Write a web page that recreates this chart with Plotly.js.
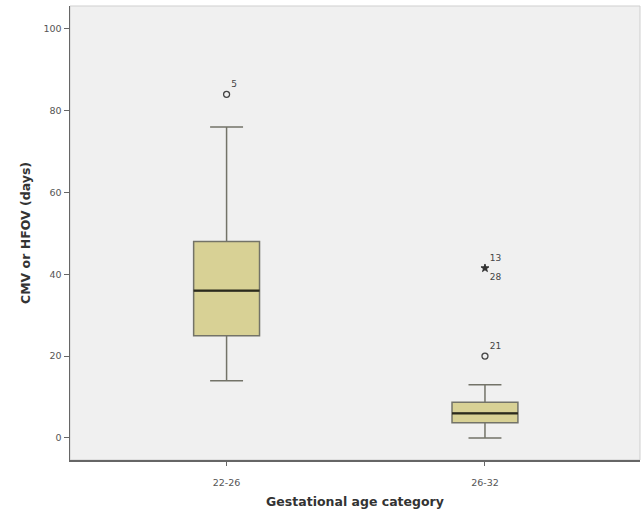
<!DOCTYPE html>
<html>
<head>
<meta charset="utf-8">
<script src="https://cdn.plot.ly/plotly-3.0.1.min.js"></script>
<style>html,body{margin:0;padding:0;background:#fff}#chart{width:644px;height:511px}</style>
</head>
<body>
<div id="chart"></div>
<script>
// Data
const categories = ["22-26", "26-32"];
const q1 = [25, 3.7];
const medians = [36, 6];
const q3 = [48, 8.7];
const lowerWhisker = [14, 0];
const upperWhisker = [76, 13];

// Outliers (mild = circles, extreme = stars)
const mildCat = ["22-26", "26-32"];
const mildVal = [84, 20];
const mildLabel = ["5", "21"];
const extremeCat = ["26-32", "26-32"];
const extremeVal = [41.5, 41.5];
const extremeLabel = ["13", "28"];

const boxTrace = {
  type: "box",
  x: categories,
  q1: q1,
  median: medians,
  q3: q3,
  lowerfence: lowerWhisker,
  upperfence: upperWhisker,
  boxpoints: false,
  width: 0.255,
  whiskerwidth: 0.5,
  fillcolor: "#d8d195",
  line: {color: "#737368", width: 1.5},
  hoverinfo: "skip",
  showlegend: false
};

// Dark, thicker median line drawn as a zero-height box at the median
const medianTrace = {
  type: "box",
  x: categories,
  q1: medians,
  median: medians,
  q3: medians,
  lowerfence: medians,
  upperfence: medians,
  boxpoints: false,
  width: 0.255,
  whiskerwidth: 0,
  fillcolor: "rgba(0,0,0,0)",
  line: {color: "#2b2a1c", width: 2.4},
  hoverinfo: "skip",
  showlegend: false
};

const mildTrace = {
  type: "scatter",
  mode: "markers+text",
  x: mildCat,
  y: mildVal,
  text: mildLabel,
  textposition: "top right",
  textfont: {family: "DejaVu Sans", size: 9, color: "#444"},
  marker: {symbol: "circle-open", size: 6, color: "#444", line: {width: 1.3, color: "#444"}},
  showlegend: false,
  cliponaxis: false
};

const extremeTrace = {
  type: "scatter",
  mode: "markers+text",
  x: extremeCat,
  y: extremeVal,
  text: extremeLabel,
  textposition: ["top right", "bottom right"],
  textfont: {family: "DejaVu Sans", size: 9, color: "#444"},
  marker: {symbol: "star", size: 6, color: "#333", line: {width: 0.5, color: "#333"}},
  showlegend: false,
  cliponaxis: false
};

const layout = {
  width: 644,
  height: 511,
  margin: {l: 70, r: 4, t: 6, b: 51},
  paper_bgcolor: "#ffffff",
  plot_bgcolor: "#f0f0f0",
  showlegend: false,
  boxmode: "overlay",
  font: {family: "DejaVu Sans", color: "#555"},
  xaxis: {
    type: "category",
    range: [-0.606, 1.6],
    showgrid: false,
    zeroline: false,
    showline: true,
    linecolor: "#666",
    linewidth: 1.5,
    ticks: "outside",
    ticklen: 4,
    tickcolor: "#666",
    ticklabelstandoff: 9,
    tickfont: {family: "DejaVu Sans", size: 9.5, color: "#555"},
    title: {text: "Gestational age category", font: {family: "DejaVu Sans", size: 12.5, color: "#333", weight: "bold"}, standoff: 10}
  },
  yaxis: {
    range: [-5.4, 105.6],
    tickvals: [0, 20, 40, 60, 80, 100],
    showgrid: false,
    zeroline: false,
    showline: true,
    linecolor: "#666",
    linewidth: 1.5,
    ticks: "outside",
    ticklen: 5,
    tickcolor: "#666",
    tickfont: {family: "DejaVu Sans", size: 9.5, color: "#555"},
    title: {text: "CMV or HFOV (days)", font: {family: "DejaVu Sans", size: 12.5, color: "#333", weight: "bold"}, standoff: 10}
  },
  shapes: [{
    type: "rect", xref: "paper", yref: "paper", x0: 0, x1: 1, y0: 0, y1: 1,
    line: {color: "#cfcfcf", width: 1}, layer: "below"
  }]
};

Plotly.newPlot("chart", [boxTrace, medianTrace, mildTrace, extremeTrace], layout, {displayModeBar: false, staticPlot: true});
</script>
</body>
</html>
